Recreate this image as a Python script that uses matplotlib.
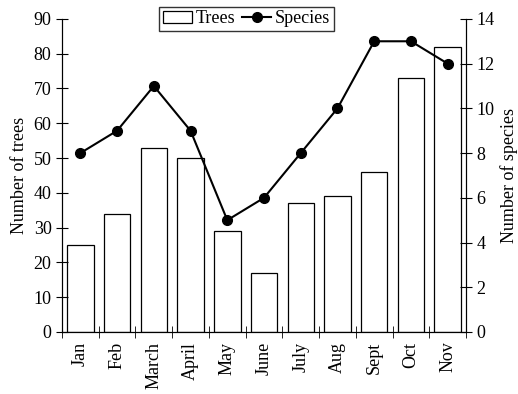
import matplotlib
matplotlib.use('Agg')
import matplotlib.pyplot as plt
import numpy as np

months = ['Jan', 'Feb', 'March', 'April', 'May', 'June', 'July', 'Aug', 'Sept', 'Oct', 'Nov']
trees = [25, 34, 53, 50, 29, 17, 37, 39, 46, 73, 82]
species = [8, 9, 11, 9, 5, 6, 8, 10, 13, 13, 12]

plt.rcParams['font.family'] = ['Liberation Serif', 'DejaVu Serif']
plt.rcParams['font.size'] = 13

fig = plt.figure(figsize=(5.18, 3.94), dpi=100)
ax = fig.add_axes([0.1197, 0.1574, 0.78, 0.7946])
x = np.arange(len(months))

# bars on the left axis
bars = ax.bar(x, trees, width=0.72, facecolor='white', edgecolor='black', linewidth=0.9, label='Trees')
ax.set_xlim(-0.5, len(months) - 0.5)
ax.set_ylim(0, 90)
ax.set_yticks(np.arange(0, 91, 10))
ax.set_ylabel('Number of trees', fontsize=13)

# month labels centred, tick marks between months
ax.set_xticks(x)
ax.set_xticklabels(months, rotation=90)
ax.tick_params(axis='x', which='major', length=0, pad=7)
ax.set_xticks(np.arange(-0.5, len(months), 1), minor=True)
ax.tick_params(axis='x', which='minor', direction='inout', length=8)
ax.tick_params(axis='y', direction='inout', length=8)
ax.spines['top'].set_visible(False)

# species line on the right axis
ax2 = ax.twinx()
line, = ax2.plot(x, species, color='black', marker='o', markersize=7, linewidth=1.5, label='Species')
ax2.set_ylim(0, 14)
ax2.set_yticks(np.arange(0, 15, 2))
ax2.set_ylabel('Number of species', fontsize=13)
ax2.tick_params(axis='y', direction='inout', length=8)
ax2.spines['top'].set_visible(False)

leg = fig.legend([bars, line], ['Trees', 'Species'], loc='upper center', bbox_to_anchor=(0.476, 0.992),
                 ncol=2, frameon=True, fancybox=False, edgecolor='black', fontsize=13,
                 handlelength=1.6, columnspacing=0.4, handletextpad=0.2, borderpad=0.2,
                 borderaxespad=0.2)
leg.get_frame().set_linewidth(1.0)

fig.savefig('out.png', dpi=100)
